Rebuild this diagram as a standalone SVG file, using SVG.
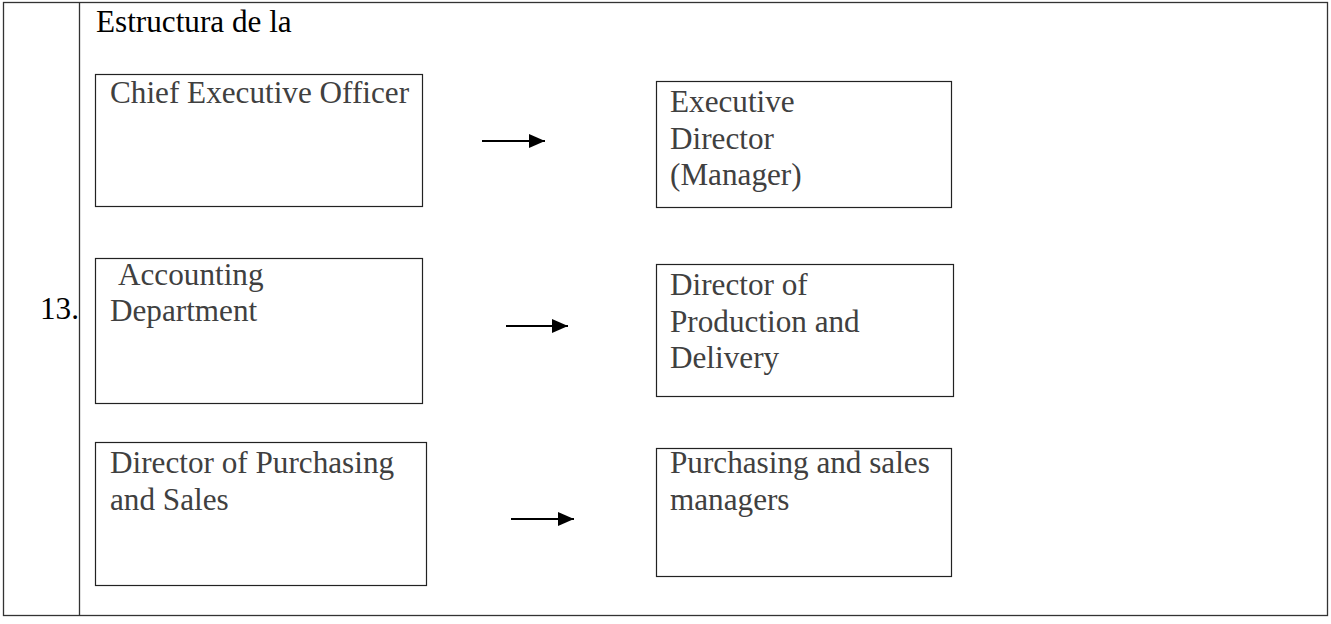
<svg xmlns="http://www.w3.org/2000/svg" width="1331" height="624" viewBox="0 0 1331 624">
<style>
.frame{fill:none;stroke:#333;stroke-width:1.3}
.box{fill:#fff;stroke:#222;stroke-width:1.2}
.lbl{font-family:'Liberation Serif',Tinos,'Noto Serif','DejaVu Serif',serif;font-size:31.2px;fill:#404040}
.hdr{font-family:'Liberation Serif',Tinos,'Noto Serif','DejaVu Serif',serif;font-size:31.2px;fill:#000}
.conn{stroke:#000;stroke-width:2;fill:none}
</style>
<defs>
<marker id="ah" markerUnits="userSpaceOnUse" markerWidth="16" markerHeight="16" refX="16" refY="8" orient="auto">
<polygon points="0,1 16,8 0,15" fill="#000"/>
</marker>
</defs>
<rect width="1331" height="624" fill="#fff"/>
<g id="table">
<rect class="frame" x="3.5" y="2.5" width="1324" height="613"/>
<line class="frame" x1="79.5" y1="2.5" x2="79.5" y2="615.5"/>
<text class="hdr" x="96" y="32">Estructura de la</text>
<text class="hdr" x="40" y="319">13.</text>
</g>
<g id="ceo">
<rect class="box" x="95.5" y="74.5" width="327" height="132"/>
<text class="lbl" x="110" y="103">Chief Executive Officer</text>
</g>
<g id="exec-director">
<rect class="box" x="656.5" y="81.5" width="295" height="126"/>
<text class="lbl" x="670" y="112">Executive</text>
<text class="lbl" x="670" y="149">Director</text>
<text class="lbl" x="670" y="185">(Manager)</text>
</g>
<g id="accounting">
<rect class="box" x="95.5" y="258.5" width="327" height="145"/>
<text class="lbl" x="118" y="285">Accounting</text>
<text class="lbl" x="110" y="321">Department</text>
</g>
<g id="production">
<rect class="box" x="656.5" y="264.5" width="297" height="132"/>
<text class="lbl" x="670" y="295">Director of</text>
<text class="lbl" x="670" y="332">Production and</text>
<text class="lbl" x="670" y="368">Delivery</text>
</g>
<g id="purchasing-director">
<rect class="box" x="95.5" y="442.5" width="331" height="143"/>
<text class="lbl" x="110" y="473">Director of Purchasing</text>
<text class="lbl" x="110" y="510">and Sales</text>
</g>
<g id="sales-managers">
<rect class="box" x="656.5" y="448.5" width="295" height="128"/>
<text class="lbl" x="670" y="473">Purchasing and sales</text>
<text class="lbl" x="670" y="510">managers</text>
</g>
<g id="connectors">
<line class="conn" x1="482" y1="141" x2="545" y2="141" marker-end="url(#ah)"/>
<line class="conn" x1="506" y1="326" x2="568" y2="326" marker-end="url(#ah)"/>
<line class="conn" x1="511" y1="519" x2="574" y2="519" marker-end="url(#ah)"/>
</g>
</svg>
